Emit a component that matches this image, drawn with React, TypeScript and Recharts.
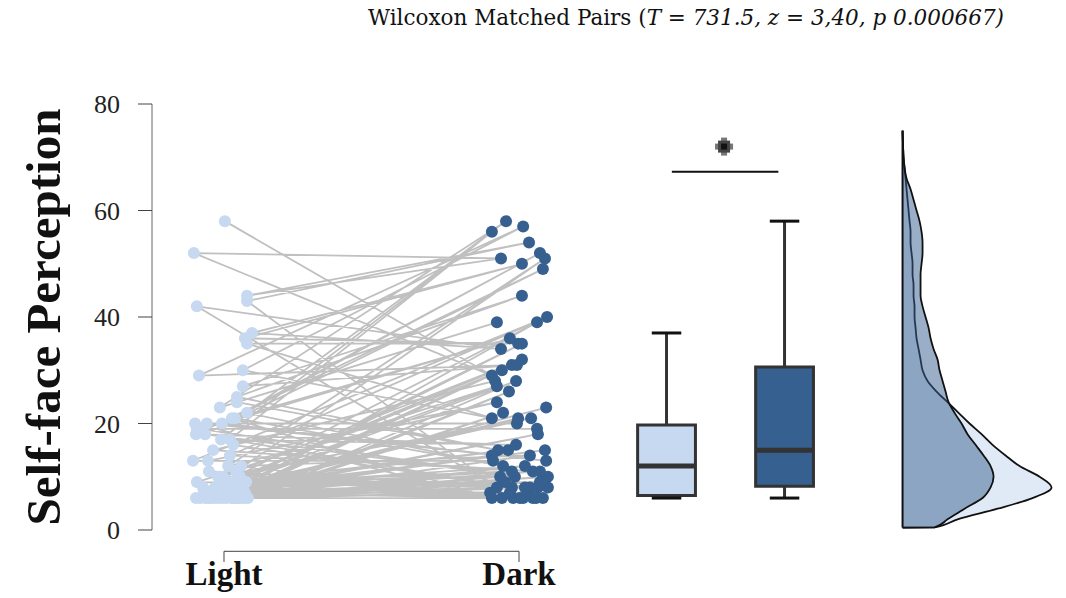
import React from 'react';
import {
  ComposedChart,
  Line,
  Scatter,
  Area,
  XAxis,
  YAxis,
  ReferenceArea,
  ReferenceLine,
  ReferenceDot,
} from 'recharts';

// paired observations (one entry per participant)
const groups = ['Light', 'Dark'];
const lightValues = [
  58, 52, 44, 43, 42, 37, 36, 35, 30, 29, 27, 25, 24, 23, 22, 21, 21, 20, 20, 20,
  19, 19, 18, 18, 17, 17, 16, 15, 14, 13, 13, 12, 11, 10, 10, 9, 9, 8, 8, 8,
  7, 7, 7, 6, 6, 6, 6, 6, 6, 6, 6, 6, 6, 6, 7, 8, 9, 10, 11, 12,
  6, 7, 8, 6, 6, 7, 6, 9, 6, 8,
];
const darkValues = [
  29, 51, 54, 8, 34, 50, 35, 21, 57, 31, 44, 15, 39, 58, 12, 52, 6, 20, 13, 36,
  19, 10, 49, 16, 56, 8, 28, 11, 40, 13, 24, 51, 6, 32, 8, 27, 15, 39, 21, 6,
  30, 11, 23, 14, 35, 8, 31, 6, 26, 10, 18, 6, 22, 28, 15, 11, 21, 8, 6, 14,
  7, 9, 12, 7, 6, 8, 9, 10, 7, 6,
];
// horizontal jitter of the dots, in category units
const lightJitter = [
  0.003, -0.102, 0.078, 0.078, -0.092, 0.095, 0.071, 0.078, 0.064, -0.085,
  0.064, 0.044, 0.044, -0.014, 0.078, 0.037, 0.027, -0.098, -0.058, -0.007,
  -0.092, -0.081, -0.064, -0.095, -0.01, 0.02, 0.031, -0.037, 0.02, -0.105,
  -0.054, 0.014, 0.041, 0.054, -0.003, -0.092, 0.027, -0.031, 0.064, 0.014,
  -0.068, 0.047, -0.01, -0.095, -0.064, -0.034, -0.007, 0.024, 0.054, 0.081,
  -0.081, -0.047, 0.041, 0.068, -0.041, 0.041, 0.075, -0.02, -0.051, 0.058,
  0.007, 0.017, -0.071, -0.02, 0.034, 0.071, -0.054, 0.003, 0.051, -0.017,
];
const darkJitter = [
  -0.092, -0.061, 0.034, -0.075, -0.061, 0.01, -0.003, -0.092, 0.014, -0.007,
  0.01, -0.071, -0.075, -0.044, -0.054, 0.071, -0.092, -0.007, 0.092, -0.031,
  0.061, -0.014, 0.081, -0.01, -0.092, -0.024, -0.081, 0.047, 0.095, -0.088,
  -0.075, 0.088, -0.02, 0.01, 0.02, -0.075, -0.037, 0.061, -0.003, 0.014,
  -0.058, 0.071, 0.092, -0.092, 0.01, 0.064, -0.024, 0.047, -0.034, 0.098,
  0.064, 0.081, -0.054, -0.01, 0.088, -0.024, 0.041, 0.098, -0.058, 0.037,
  0.031, -0.047, 0.02, -0.098, 0.003, 0.037, 0.071, -0.064, -0.031, 0.058,
];

// box plot summaries: min, q1, median, q3, max
const lightBox = [6, 6.5, 12, 19.7, 37];
const darkBox = [6, 8.2, 15, 30.6, 58];
const boxCenters = [1.5, 1.9];

// significance bracket
const sigSpan = [1.518, 1.879];
const sigLevel = 67.3;
const starPos = [1.695, 72];

// half-violin densities (relative units) along the value axis
const densityLevels = [
  0.45, 0.5, 2, 4, 6, 8, 10, 12, 14, 16, 18, 20, 22, 24, 26, 28, 30, 32, 34, 36,
  38, 40, 42, 44, 46, 48, 50, 52, 54, 56, 58, 60, 62, 64, 66, 68, 70, 72, 75,
];
const lightDensity = [
  0, 32, 55, 95, 130, 149, 137, 117, 103, 90, 79, 67, 56, 45, 34, 25, 20, 18, 16, 14,
  13, 12, 12, 11, 11, 10, 10, 9, 8, 8, 7, 6, 5, 4, 3, 2, 1, 0.5, 0,
];
const darkDensity = [
  0, 32, 45, 62, 80, 88, 91, 88, 81, 73, 65, 59, 52, 46, 43, 40, 37, 35, 31, 28,
  26, 23, 20, 18, 18, 18, 19, 20, 20, 19, 17, 14, 11, 8, 4, 2, 1, 0.5, 0,
];
const densityBase = 2.3;
const densityScale = 1 / 295;

const LIGHT = '#c6d9f0';
const DARK = '#36608f';
const SERIF = '"Liberation Serif", "Times New Roman", serif';

const pairLines = lightValues.flatMap((l, i) => [
  { x: lightJitter[i], v: l },
  { x: 1 + darkJitter[i], v: darkValues[i] },
  { x: null, v: darkValues[i] },
]);
const lightPoints = lightValues.map((v, i) => ({ x: lightJitter[i], v }));
const darkPoints = darkValues.map((v, i) => ({ x: 1 + darkJitter[i], v }));
const densityData = densityLevels.map((v, i) => ({
  v,
  light: lightDensity[i],
  dark: darkDensity[i],
}));
const boxes = [
  { stats: lightBox, pos: boxCenters[0], fill: LIGHT },
  { stats: darkBox, pos: boxCenters[1], fill: DARK },
];

const Dot = (color: string) => (props: any) => (
  <circle cx={props.cx} cy={props.cy} r={6} fill={color} />
);

const GroupTick = (props: any) => {
  const { x, y, payload } = props;
  return (
    <text
      x={x}
      y={y + 55}
      textAnchor="middle"
      fontFamily={SERIF}
      fontWeight={700}
      fontSize={33}
      fill="#111"
    >
      {groups[payload.value]}
    </text>
  );
};

const yLabel = (props: any) => {
  const { viewBox } = props;
  const cx = viewBox.x + 60;
  const cy = viewBox.y + viewBox.height / 2;
  return (
    <text
      x={cx}
      y={cy}
      transform={`rotate(-90, ${cx}, ${cy})`}
      textAnchor="middle"
      fontFamily={SERIF}
      fontWeight={700}
      fontSize={49}
      fill="#111"
    >
      Self-face Perception
    </text>
  );
};

const Star = (props: any) => {
  const { cx, cy } = props;
  return (
    <g>
      <rect x={cx - 9} y={cy - 3} width={18} height={6} fill="#777" />
      <rect x={cx - 3} y={cy - 9} width={6} height={18} fill="#777" />
      <rect x={cx - 6} y={cy - 6} width={12} height={12} fill="#444" />
      <rect x={cx - 3} y={cy - 3} width={6} height={6} fill="#111" />
    </g>
  );
};

export default function App() {
  return (
    <div style={{ position: 'absolute', left: 0, top: 0, width: 1066, height: 598 }}>
      <div
        style={{
          position: 'absolute',
          left: 368,
          top: 6,
          fontFamily: '"DejaVu Serif", serif',
          fontSize: 21.5,
          lineHeight: '24px',
          color: '#111',
          whiteSpace: 'nowrap',
        }}
      >
        Wilcoxon Matched Pairs (<i>T = 731.5, z = 3,40, p 0.000667)</i>
      </div>
      <ComposedChart
        width={1066}
        height={598}
        layout="vertical"
        margin={{ top: 104, right: 0, bottom: 0, left: 0 }}
      >
        <XAxis
          type="number"
          dataKey="x"
          domain={[-0.244, 2.854]}
          allowDataOverflow
          ticks={[0, 1]}
          interval={0}
          height={68}
          axisLine={false}
          tickLine={false}
          tickSize={0}
          tickMargin={0}
          tick={<GroupTick />}
        />
        <YAxis
          type="number"
          dataKey="v"
          domain={[0, 80]}
          reversed
          allowDataOverflow
          ticks={[0, 20, 40, 60, 80]}
          width={152}
          tickSize={14}
          tickMargin={18}
          axisLine={{ stroke: '#666' }}
          tickLine={{ stroke: '#444' }}
          tick={{ fontSize: 26, fontFamily: SERIF, fill: '#222' }}
          label={yLabel}
        />

        {/* bracket under the paired plot */}
        <ReferenceLine
          segment={[{ x: 0, y: -4 }, { x: 1, y: -4 }]}
          stroke="#444"
          ifOverflow="visible"
        />
        <ReferenceLine
          segment={[{ x: 0, y: -4 }, { x: 0, y: -6 }]}
          stroke="#444"
          ifOverflow="visible"
        />
        <ReferenceLine
          segment={[{ x: 1, y: -4 }, { x: 1, y: -6 }]}
          stroke="#444"
          ifOverflow="visible"
        />

        <Line
          data={pairLines}
          dataKey="x"
          type="linear"
          stroke="#c0c0c0"
          strokeWidth={1.8}
          dot={false}
          activeDot={false}
          isAnimationActive={false}
        />
        <Scatter data={lightPoints} shape={Dot(LIGHT)} isAnimationActive={false} />
        <Scatter data={darkPoints} shape={Dot(DARK)} isAnimationActive={false} />

        {/* box plots */}
        {boxes.map((b, i) => (
          <React.Fragment key={i}>
            <ReferenceLine
              segment={[{ x: b.pos, y: b.stats[3] }, { x: b.pos, y: b.stats[4] }]}
              stroke="#333"
              strokeWidth={3}
            />
            <ReferenceLine
              segment={[{ x: b.pos, y: b.stats[0] }, { x: b.pos, y: b.stats[1] }]}
              stroke="#333"
              strokeWidth={3}
            />
            <ReferenceArea
              x1={b.pos - 0.098}
              x2={b.pos + 0.098}
              y1={b.stats[1]}
              y2={b.stats[3]}
              fill={b.fill}
              fillOpacity={1}
              stroke="#333"
              strokeWidth={3}
            />
            <ReferenceLine
              segment={[{ x: b.pos - 0.098, y: b.stats[2] }, { x: b.pos + 0.098, y: b.stats[2] }]}
              stroke="#333"
              strokeWidth={5}
            />
            <ReferenceLine
              segment={[{ x: b.pos - 0.05, y: b.stats[4] }, { x: b.pos + 0.05, y: b.stats[4] }]}
              stroke="#111"
              strokeWidth={3}
            />
            <ReferenceLine
              segment={[{ x: b.pos - 0.05, y: b.stats[0] }, { x: b.pos + 0.05, y: b.stats[0] }]}
              stroke="#111"
              strokeWidth={3}
            />
          </React.Fragment>
        ))}

        {/* significance */}
        <ReferenceLine
          segment={[{ x: sigSpan[0], y: sigLevel }, { x: sigSpan[1], y: sigLevel }]}
          stroke="#111"
          strokeWidth={2}
        />
        <ReferenceDot x={starPos[0]} y={starPos[1]} r={8} shape={Star} />

        {/* half violins */}
        <Area
          data={densityData}
          dataKey={(d: any) => densityBase + d.light * densityScale}
          baseValue={densityBase}
          type="monotone"
          fill={LIGHT}
          fillOpacity={0.55}
          stroke="#111"
          strokeWidth={1.8}
          dot={false}
          activeDot={false}
          isAnimationActive={false}
        />
        <Area
          data={densityData}
          dataKey={(d: any) => densityBase + d.dark * densityScale}
          baseValue={densityBase}
          type="monotone"
          fill={DARK}
          fillOpacity={0.5}
          stroke="#111"
          strokeWidth={1.8}
          dot={false}
          activeDot={false}
          isAnimationActive={false}
        />
        <ReferenceLine
          segment={[{ x: densityBase, y: 0.45 }, { x: densityBase, y: 75 }]}
          stroke="#111"
          strokeWidth={2}
        />
      </ComposedChart>
    </div>
  );
}
